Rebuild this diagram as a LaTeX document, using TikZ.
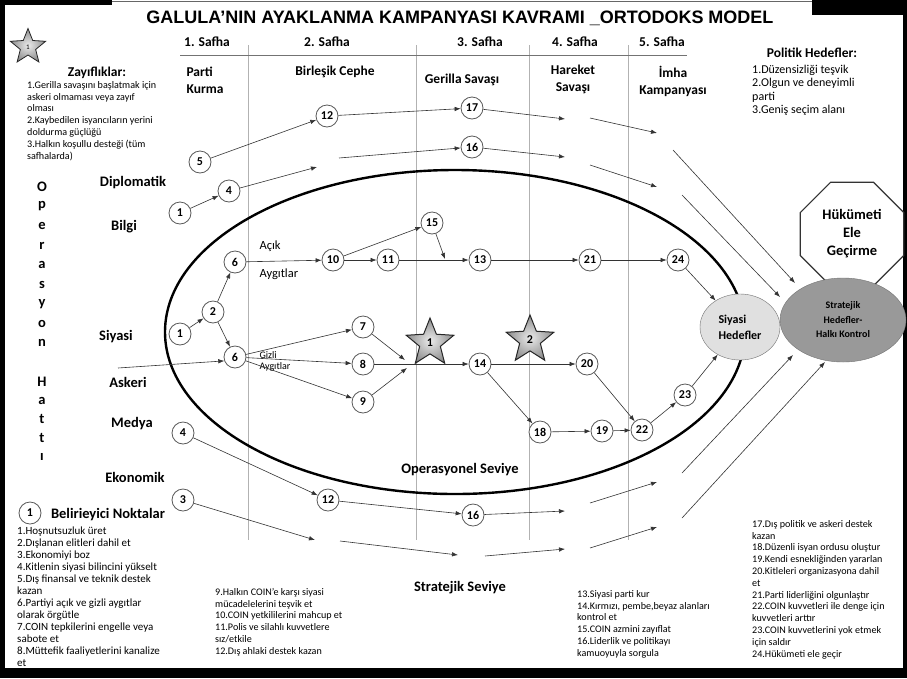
\documentclass[tikz,border=0pt]{standalone}
\usepackage{fontspec}
\setmainfont{Carlito}
\newfontfamily\titlefont{Liberation Sans}
\usetikzlibrary{arrows.meta,shapes.geometric}
\tikzset{
  num/.style={circle,draw=black!65,line width=0.8pt,fill=white,minimum size=22pt,inner sep=0pt,font=\bfseries\fontsize{12}{12}\selectfont},
  big/.style={font=\bfseries\fontsize{14.5}{16}\selectfont},
  head/.style={font=\bfseries\fontsize{13.5}{17}\selectfont,align=center},
  lst/.style={anchor=north west,align=left,inner sep=0pt,font=\fontsize{10.1}{11.8}\selectfont},
  lnk/.style={draw=black!80,line width=0.6pt},
  vline/.style={draw=black!30,line width=0.5pt},
  starnode/.style={star,star points=5,star point ratio=2.3,draw=black!85,line width=1pt,inner color=black!8,outer color=black!45,inner sep=0pt},
}
\begin{document}
\begin{tikzpicture}[x=1pt,y=-1pt,>={Latex[length=6pt,width=4.5pt]}]
\useasboundingbox (0,0) rectangle (907,678);
\fill[white] (0,0) rectangle (907,678);
\fill[black] (0,0) rectangle (5,678);
\fill[black] (0,668) rectangle (907,678);
\fill[black] (903,0) rectangle (907,678);
\fill[black] (0,0) rectangle (112,5);
\fill[black] (812,0) rectangle (907,15);
\draw[black!60,line width=1pt] (112,1.5) -- (812,1.5);

\node (title) at (460,18){\titlefont\bfseries\fontsize{18}{20}\selectfont GALULA’NIN AYAKLANMA KAMPANYASI KAVRAMI \_ORTODOKS MODEL};
\node[starnode,minimum size=37pt,line width=0.8pt] (star0) at (28,47){\fontsize{7}{7}\selectfont 1};

\foreach \vx in {248,416,529,628}
  \draw[vline] (\vx,45) -- (\vx,540);
\draw[black!55,line width=0.8pt] (180,55) -- (687,55);

\node[head] (ph1) at (207,42){1. Safha};
\node[head] (ph2) at (327,42){2. Safha};
\node[head] (ph3) at (480,42){3. Safha};
\node[head] (ph4) at (575,42){4. Safha};
\node[head] (ph5) at (662,42){5. Safha};
\node[head,anchor=west,align=left] (stg1) at (183,80){Parti\\Kurma};
\node[head] (stg2) at (335,72){Birleşik Cephe};
\node[head] (stg3) at (462,80){Gerilla Savaşı};
\node[head] (stg4) at (573,79){Hareket\\Savaşı};
\node[head] (stg5) at (673,81){İmha\\Kampanyası};

\node[head] (zay) at (97,73){Zayıflıklar:};
\node[lst] (zaylist) at (27,81){1.Gerilla savaşını başlatmak için\\askeri olmaması veya zayıf\\olması\\2.Kaybedilen isyancıların yerini\\doldurma güçlüğü\\3.Halkın koşullu desteği (tüm\\safhalarda)};
\node[head] (pol) at (812,53){Politik Hedefler:};
\node[lst,font=\fontsize{12}{13.3}\selectfont] (pollist) at (752,65){1.Düzensizliği teşvik\\2.Olgun ve deneyimli\\parti\\3.Geniş seçim alanı};

\foreach \l [count=\i from 0] in {O,p,e,r,a,s,y,o,n}
  \node[big] (op\i) at (42,{187+19.5*\i}){\l};
\foreach \l [count=\i from 0] in {H,a,t,t,ı}
  \node[big] (ht\i) at (42,{382+18.7*\i}){\l};

\node[big] (rDip) at (133,183){Diplomatik};
\node[big] (rBil) at (124,227){Bilgi};
\node[big] (rSiy) at (116,337){Siyasi};
\node[big] (rAsk) at (128,382){Askeri};
\node[big] (rMed) at (132,424){Medya};
\node[big] (rEko) at (135,477){Ekonomik};

\node[ellipse,draw,line width=2.4pt,minimum width=580pt,minimum height=324pt,inner sep=0pt] (opv) at (455,332){};
\node[big] (opsev) at (460,470){Operasyonel Seviye};

\node[regular polygon,regular polygon sides=8,draw=black!80,line width=1.2pt,fill=white,minimum size=112pt,inner sep=0pt,align=center,font=\bfseries\fontsize{14.5}{18}\selectfont] (hk) at (852,234){Hükümeti\\Ele\\Geçirme};
\node[ellipse,draw=black!55,fill=black!12,minimum width=80pt,minimum height=66pt,inner sep=0pt,align=left,font=\bfseries\fontsize{12}{16}\selectfont] (sh) at (740,327){Siyasi\\Hedefler};
\node[ellipse,draw=black!55,fill=black!40,minimum width=126pt,minimum height=84pt,inner sep=0pt,align=center,font=\bfseries\fontsize{10}{14.5}\selectfont] (sth) at (843,320){Stratejik\\Hedefler-\\Halkı Kontrol};

\node[anchor=west,font=\fontsize{12.5}{14}\selectfont] (acik) at (256,246){Açık};
\node[anchor=west,font=\fontsize{12.5}{14}\selectfont] (aygA) at (256,274){Aygıtlar};
\node[anchor=west,font=\fontsize{10}{12}\selectfont] (gizli) at (256,355){Gizli};
\node[anchor=west,font=\fontsize{10}{12}\selectfont] (aygG) at (256,367){Aygıtlar};

\node[starnode,minimum size=50pt] (star1) at (430,343){\bfseries\fontsize{12}{12}\selectfont 1};
\node[starnode,minimum size=50pt] (star2) at (530,340){\bfseries\fontsize{12}{12}\selectfont 2};

\node[num] (n1a) at (180,213){1};
\node[num] (n4a) at (229,191){4};
\node[num] (n5) at (200,162){5};
\node[num] (n12a) at (327,116){12};
\node[num] (n17) at (472,108){17};
\node[num] (n16a) at (472,147){16};
\node[num] (n1b) at (180,334){1};
\node[num] (n2) at (213,312){2};
\node[num] (n6a) at (235,262){6};
\node[num] (n6b) at (235,357){6};
\node[num] (n10) at (333,260){10};
\node[num] (n11) at (388,260){11};
\node[num] (n15) at (432,223){15};
\node[num] (n13) at (480,260){13};
\node[num] (n21) at (590,260){21};
\node[num] (n24) at (678,260){24};
\node[num] (n7) at (363,327){7};
\node[num] (n8) at (363,364){8};
\node[num] (n9) at (363,402){9};
\node[num] (n14) at (480,364){14};
\node[num] (n20) at (587,364){20};
\node[num] (n18) at (540,432){18};
\node[num] (n19) at (602,431){19};
\node[num] (n22) at (642,430){22};
\node[num] (n23) at (685,395){23};
\node[num] (n4b) at (183,433){4};
\node[num] (n12b) at (328,500){12};
\node[num] (n16b) at (473,515){16};
\node[num] (n3) at (183,500){3};

\coordinate (c4a) at (317,167);
\coordinate (c4b) at (339,158);
\coordinate (c17a) at (565,119);
\coordinate (c17b) at (590,118);
\coordinate (c17c) at (657,133);
\coordinate (c17d) at (673,150);
\coordinate (c17e) at (795,283);
\coordinate (c16a) at (565,157);
\coordinate (c16b) at (590,165);
\coordinate (c16c) at (657,187);
\coordinate (c16d) at (682,195);
\coordinate (c16e) at (780,297);
\coordinate (c15) at (445,259);
\coordinate (cAsk) at (118,368);
\coordinate (c7) at (405,360);
\coordinate (c9) at (407,368);
\coordinate (c16bA) at (565,511);
\coordinate (c16bB) at (590,503);
\coordinate (c16bC) at (657,482);
\coordinate (c16bD) at (682,473);
\coordinate (c16bE) at (793,355);
\coordinate (c3a) at (315,540);
\coordinate (c3b) at (340,541);
\coordinate (c3c) at (458,555);
\coordinate (c3d) at (485,556);
\coordinate (c3e) at (565,549);
\coordinate (c3f) at (590,548);
\coordinate (c3g) at (657,527);
\coordinate (c3h) at (682,518);
\coordinate (c3i) at (825,362);

\draw[->,lnk] (n1a) -- (n4a);
\draw[->,lnk] (n4a) -- (c4a);
\draw[->,lnk] (c4b) -- (n16a);
\draw[->,lnk] (n5) -- (n12a);
\draw[->,lnk] (n12a) -- (n17);
\draw[->,lnk] (n17) -- (c17a);
\draw[->,lnk] (c17b) -- (c17c);
\draw[->,lnk] (c17d) -- (c17e);
\draw[->,lnk] (n16a) -- (c16a);
\draw[->,lnk] (c16b) -- (c16c);
\draw[->,lnk] (c16d) -- (c16e);
\draw[->,lnk] (n1b) -- (n2);
\draw[->,lnk] (n2) -- (n6a);
\draw[->,lnk] (n2) -- (n6b);
\draw[->,lnk] (n6a) -- (n10);
\draw[->,lnk] (n10) -- (n11);
\draw[->,lnk] (n10) -- (n15);
\draw[->,lnk] (n11) -- (n13);
\draw[->,lnk] (n15) -- (c15);
\draw[->,lnk] (n13) -- (n21);
\draw[->,lnk] (n21) -- (n24);
\draw[->,lnk] (n24) -- (sh);
\draw[->,lnk] (cAsk) -- (n6b.200);
\draw[->,lnk] (n6b) -- (n7);
\draw[->,lnk] (n6b) -- (n8);
\draw[->,lnk] (n6b) -- (n9);
\draw[->,lnk] (n7) -- (c7);
\draw[->,lnk] (n9) -- (c9);
\draw[->,lnk] (n8) -- (n14);
\draw[->,lnk] (n14) -- (n20);
\draw[->,lnk] (n14) -- (n18);
\draw[->,lnk] (n18) -- (n19);
\draw[->,lnk] (n19) -- (n22);
\draw[->,lnk] (n20) -- (n22);
\draw[->,lnk] (n22) -- (n23);
\draw[->,lnk] (n23) -- (sh);
\draw[->,lnk] (n4b) -- (n12b);
\draw[->,lnk] (n12b) -- (n16b);
\draw[->,lnk] (n16b) -- (c16bA);
\draw[->,lnk] (c16bB) -- (c16bC);
\draw[->,lnk] (c16bD) -- (c16bE);
\draw[->,lnk] (n3) -- (c3a);
\draw[->,lnk] (c3b) -- (c3c);
\draw[->,lnk] (c3d) -- (c3e);
\draw[->,lnk] (c3f) -- (c3g);
\draw[->,lnk] (c3h) -- (c3i);

\node[num] (nL) at (30,513){1};
\node[big] (belir) at (108,515){Belirieyici Noktalar};
\node[lst,font=\fontsize{11}{12}\selectfont] (list1) at (17,527){1.Hoşnutsuzluk üret\\2.Dışlanan elitleri dahil et\\3.Ekonomiyi boz\\4.Kitlenin siyasi bilincini yükselt\\5.Dış finansal ve teknik destek\\kazan\\6.Partiyi açık ve gizli aygıtlar\\olarak örgütle\\7.COIN tepkilerini engelle veya\\sabote et\\8.Müttefik faaliyetlerini kanalize\\et};
\node[lst] (list2) at (215,588){9.Halkın COIN’e karşı siyasi\\mücadelelerini teşvik et\\10.COIN yetkililerini mahcup et\\11.Polis ve silahlı kuvvetlere\\sız/etkile\\12.Dış ahlaki destek kazan};
\node[big] (strsev) at (460,588){Stratejik Seviye};
\node[lst] (list3) at (577,590){13.Siyasi parti kur\\14.Kırmızı, pembe,beyaz alanları\\kontrol et\\15.COIN azmini zayıflat\\16.Liderlik ve politikayı\\kamuoyuyla sorgula};
\node[lst] (list4) at (752,520){17.Dış politik ve askeri destek\\kazan\\18.Düzenli isyan ordusu oluştur\\19.Kendi esnekliğinden yararlan\\20.Kitleleri organizasyona dahil\\et\\21.Parti liderliğini olgunlaştır\\22.COIN kuvvetleri ile denge için\\kuvvetleri arttır\\23.COIN kuvvetlerini yok etmek\\için saldır\\24.Hükümeti ele geçir};
\end{tikzpicture}
\end{document}
